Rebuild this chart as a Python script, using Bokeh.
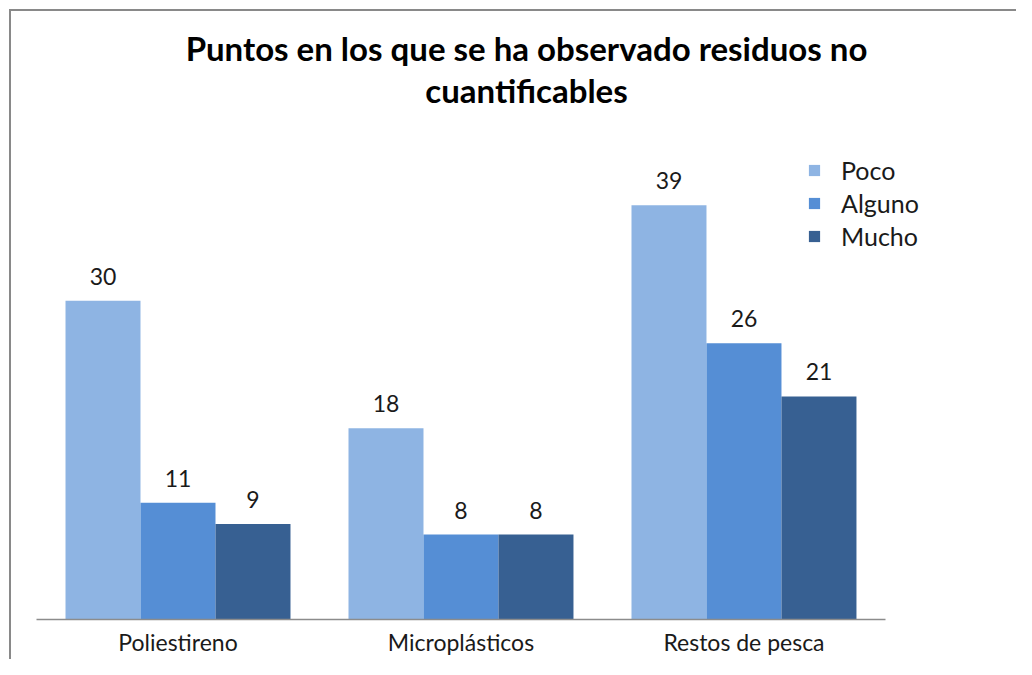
from bokeh.plotting import figure
from bokeh.models import (ColumnDataSource, LabelSet, Legend, LegendItem, FixedTicker,
                          Range1d, Title)
from bokeh.core.properties import value
from bokeh.transform import dodge
from bokeh.embed import file_html
from bokeh.resources import INLINE

categories = ["Poliestireno", "Microplásticos", "Restos de pesca"]
series = ["Poco", "Alguno", "Mucho"]
poco = [30, 18, 39]
alguno = [11, 8, 26]
mucho = [9, 8, 21]
colors = ["#8EB4E3", "#558ED5", "#376092"]
title_lines = ["Puntos en los que se ha observado residuos no", "cuantificables"]

x_centers = [i + 0.5 for i in range(len(categories))]
source = ColumnDataSource(dict(
    x=x_centers,
    poco=poco, alguno=alguno, mucho=mucho,
    poco_t=[str(v) for v in poco],
    alguno_t=[str(v) for v in alguno],
    mucho_t=[str(v) for v in mucho],
))

FONT = "Lato"
BORDER = "#898989"

p = figure(width=1016, height=659, output_backend="svg", toolbar_location=None,
           x_range=Range1d(0, 3.463), y_range=Range1d(0, 48), title_location=None,
           min_border_left=36, min_border_right=0, min_border_top=109, min_border_bottom=40)

# chart-area border: only its left and top edges are in view
p.border_fill_color = None
p.styles = {
    "background": (f"linear-gradient({BORDER}, {BORDER}) 9px 9px / 2px calc(100% - 9px) no-repeat, "
                   f"linear-gradient({BORDER}, {BORDER}) 9px 9px / calc(100% - 9px) 2px no-repeat, "
                   "#ffffff")
}

# line 2 closest to the frame, then line 1 above it
for txt in reversed(title_lines):
    t = Title(text=txt, align="center", text_font=FONT, text_font_size="33px",
              text_font_style="bold", text_color="#000000", standoff=0)
    p.add_layout(t, "above")

bw = 0.265
keys = ["poco", "alguno", "mucho"]
offsets = [-bw, 0.0, bw]
items = []
for key, off, col, name in zip(keys, offsets, colors, series):
    r = p.vbar(x=dodge("x", off, range=p.x_range), top=key, width=bw, source=source,
               fill_color=col, line_color=None)
    items.append(LegendItem(label=name, renderers=[r]))
    lbl = LabelSet(x=dodge("x", off, range=p.x_range), y=key, text=key + "_t", source=source,
                   text_align="center", text_baseline="alphabetic", y_offset=16,
                   text_font=value(FONT), text_font_size=value("23px"), text_color="#1a1a1a")
    p.add_layout(lbl)

legend = Legend(items=items, location=(771, 368), glyph_width=14, glyph_height=14,
                label_height=22, spacing=3, label_standoff=20, padding=10,
                label_text_font=FONT, label_text_font_size="25px", label_text_color="#1a1a1a",
                border_line_color=None, background_fill_alpha=0)
p.add_layout(legend)

p.yaxis.visible = False
p.xgrid.visible = False
p.ygrid.visible = False
p.outline_line_color = None

ax = p.xaxis[0]
ax.ticker = FixedTicker(ticks=x_centers)
ax.major_label_overrides = {x: c for x, c in zip(x_centers, categories)}
ax.bounds = (0, 3)
ax.axis_line_color = "#8c8c8c"
ax.axis_line_width = 1.5
ax.major_tick_line_color = None
ax.minor_tick_line_color = None
ax.major_label_standoff = 2
ax.major_label_text_font = FONT
ax.major_label_text_font_size = "23px"
ax.major_label_text_color = "#1a1a1a"

open("out.html", "w").write(file_html(p, INLINE))
